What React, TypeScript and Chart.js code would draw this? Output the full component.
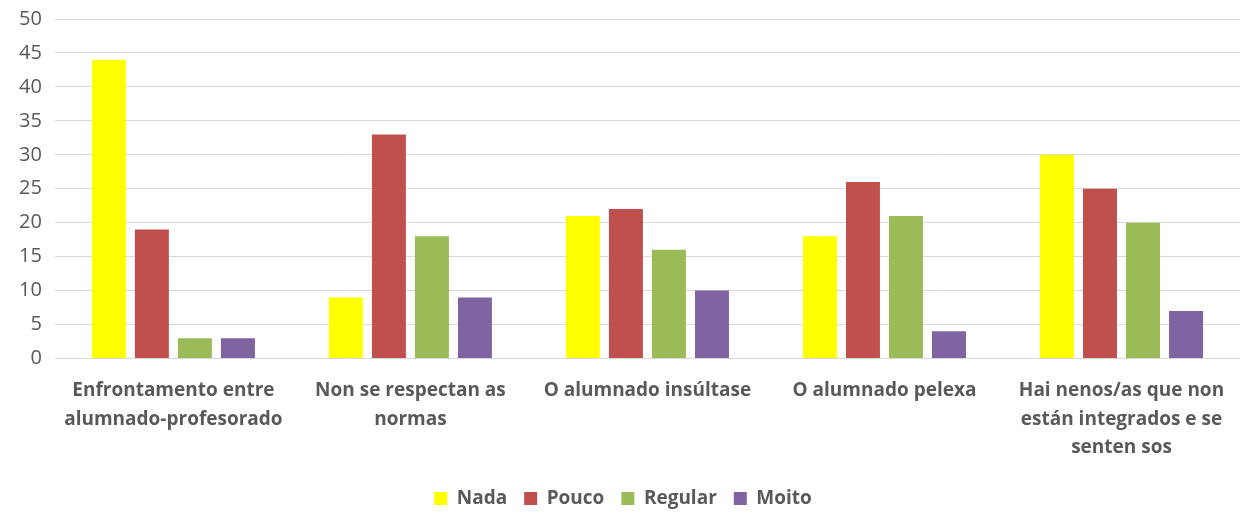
import React, { useEffect, useRef } from "react";
import { Chart, registerables } from "chart.js";

Chart.register(...registerables);

const categories: (string | string[])[] = [
  ["Enfrontamento entre", "alumnado-profesorado"],
  ["Non se respectan as", "normas"],
  ["O alumnado insúltase"],
  ["O alumnado pelexa"],
  ["Hai nenos/as que non", "están integrados e se", "senten sos"],
];
const nada = [44, 9, 21, 18, 30];
const pouco = [19, 33, 22, 26, 25];
const regular = [3, 18, 16, 21, 20];
const moito = [3, 9, 10, 4, 7];

const FONT = "'Open Sans', 'Liberation Sans', sans-serif";

export default function App() {
  const ref = useRef<HTMLCanvasElement>(null);
  useEffect(() => {
    document.body.style.margin = "0";
    const chart = new Chart(ref.current!, {
      type: "bar",
      data: {
        labels: categories,
        datasets: [
          { label: "Nada", data: nada, backgroundColor: "#FFFF00" },
          { label: "Pouco", data: pouco, backgroundColor: "#C0504D" },
          { label: "Regular", data: regular, backgroundColor: "#9BBB59" },
          { label: "Moito", data: moito, backgroundColor: "#8064A2" },
        ],
      },
      options: {
        animation: false,
        responsive: false,
        maintainAspectRatio: false,
        layout: { padding: { top: 0, right: 3, left: 6, bottom: -5 } },
        datasets: { bar: { categoryPercentage: 0.726, barPercentage: 0.79 } },
        plugins: {
          tooltip: { enabled: false },
          legend: {
            position: "bottom",
            labels: {
              boxWidth: 13,
              boxHeight: 13,
              padding: 17,
              color: "#595959",
              font: { family: FONT, size: 19, weight: "bold" },
            },
          },
        },
        scales: {
          x: {
            grid: { display: false },
            border: { display: false },
            ticks: {
              color: "#595959",
              maxRotation: 0,
              autoSkip: false,
              padding: 10,
              font: { family: FONT, size: 19, weight: "bold", lineHeight: 1.5 },
            },
          },
          y: {
            min: 0,
            max: 50,
            border: { display: false },
            grid: { color: "#D9D9D9", lineWidth: 1, drawTicks: false },
            ticks: {
              stepSize: 5,
              color: "#595959",
              padding: 13,
              font: { family: FONT, size: 20, lineHeight: 0.6 },
            },
          },
        },
      },
    });
    return () => chart.destroy();
  }, []);
  return (
    <div style={{ position: "absolute", left: 0, top: 0, width: 1243, height: 513 }}>
      <canvas ref={ref} width={1243} height={513} style={{ width: 1243, height: 513 }} />
    </div>
  );
}
